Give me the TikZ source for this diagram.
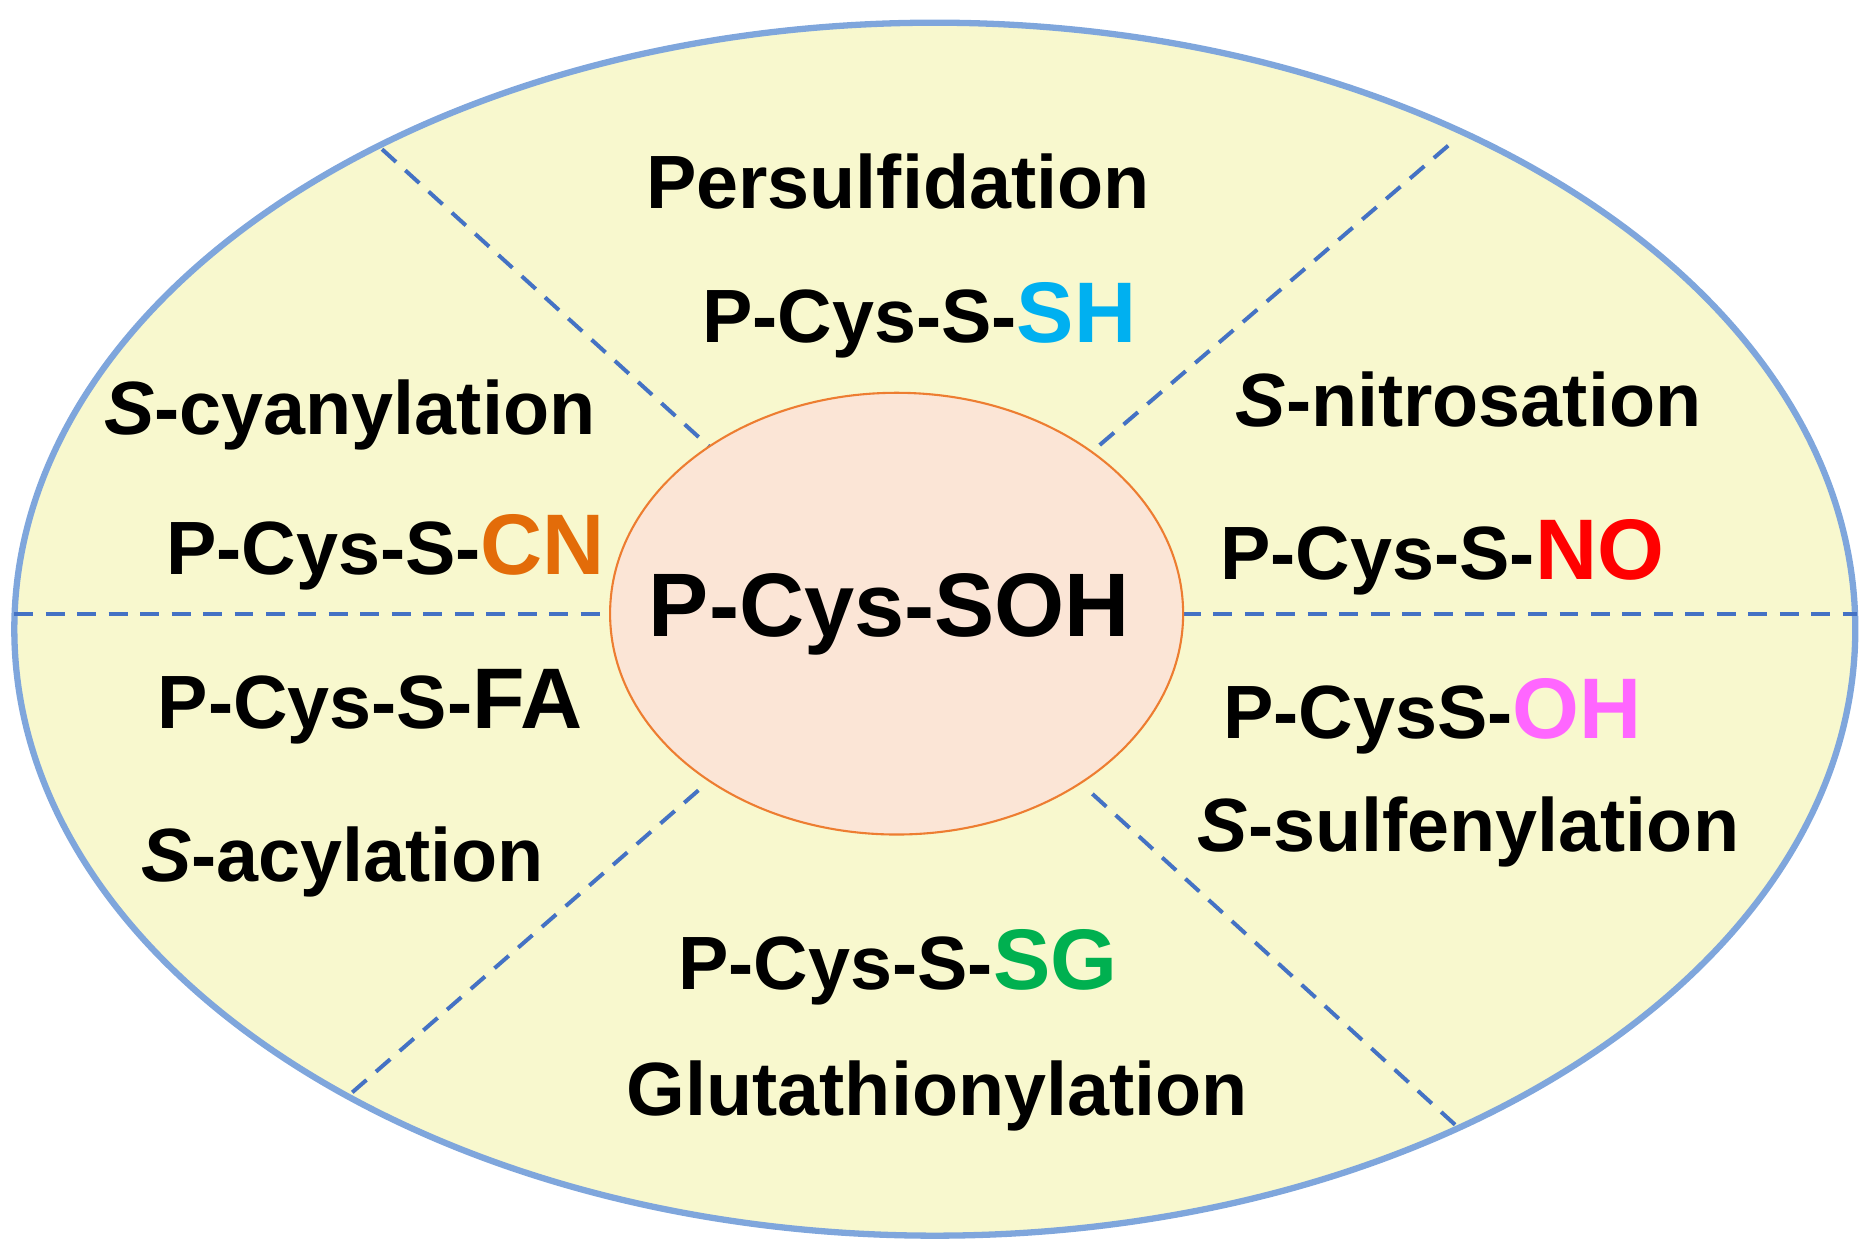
\documentclass[tikz,border=0pt]{standalone}
\usepackage{fontspec}
\setmainfont{Liberation Sans}
\definecolor{bg}{HTML}{F8F8CE}
\definecolor{outer}{HTML}{7FA6DC}
\definecolor{inner}{HTML}{FBE5D6}
\definecolor{innerb}{HTML}{ED7D31}
\definecolor{dashc}{HTML}{4472C4}
\definecolor{cSH}{HTML}{00B0F0}
\definecolor{cCN}{HTML}{E36C09}
\definecolor{cNO}{HTML}{FF0000}
\definecolor{cOH}{HTML}{FF66FF}
\definecolor{cSG}{HTML}{00B050}
\tikzset{
 lbl/.style={font=\fontsize{36}{38}\selectfont\bfseries, inner sep=0pt},
 sep/.style={draw=dashc, line width=1.9pt, dash pattern=on 9pt off 6pt},
}
\newcommand{\bigpart}[2]{{\fontsize{41}{43}\selectfont\textcolor{#1}{#2}}}
\begin{document}
\begin{tikzpicture}[x=0.02cm,y=-0.02cm]
\useasboundingbox (0,0) rectangle (1568,1054);
\draw[fill=bg, draw=outer, line width=3pt] (783,527) ellipse [x radius=771, y radius=508];
\coordinate (h1) at (12,514); \coordinate (h2) at (510,514);
\coordinate (h3) at (990,514); \coordinate (h4) at (1555,514);
\coordinate (d1) at (320,125); \coordinate (d2) at (595,375);
\coordinate (d3) at (1213,122); \coordinate (d4) at (915,378);
\coordinate (d5) at (585,662); \coordinate (d6) at (295,915);
\coordinate (d7) at (915,665); \coordinate (d8) at (1222,945);
\draw[sep] (h1)--(h2); \draw[sep] (h3)--(h4);
\draw[sep] (d1)--(d2); \draw[sep] (d3)--(d4);
\draw[sep] (d5)--(d6); \draw[sep] (d7)--(d8);
\draw[fill=inner, draw=innerb, line width=1pt] (751,514) ellipse [x radius=240, y radius=185];
\node[lbl] (c) at (745,515) {\fontsize{43}{45}\selectfont P-Cys-SOH};
\node[lbl] (t1) at (752,152) {Persulfidation};
\node[lbl] (t2) at (770,268) {P-Cys-S-\bigpart{cSH}{SH}};
\node[lbl] (t3) at (293,348) {\textit{S}-cyanylation};
\node[lbl] (t4) at (323,463) {P-Cys-S-\bigpart{cCN}{CN}};
\node[lbl] (t5) at (1230,335) {\textit{S}-nitrosation};
\node[lbl] (t6) at (1208,467) {P-Cys-S-\bigpart{cNO}{NO}};
\node[lbl] (t7) at (310,592) {P-Cys-S-\bigpart{black}{FA}};
\node[lbl] (t8) at (1200,600) {P-CysS-\bigpart{cOH}{OH}};
\node[lbl] (t9) at (287,722) {\textit{S}-acylation};
\node[lbl] (t10) at (1230,697) {\textit{S}-sulfenylation};
\node[lbl] (t11) at (752,810) {P-Cys-S-\bigpart{cSG}{SG}};
\node[lbl] (t12) at (785,918) {Glutathionylation};
\end{tikzpicture}
\end{document}
